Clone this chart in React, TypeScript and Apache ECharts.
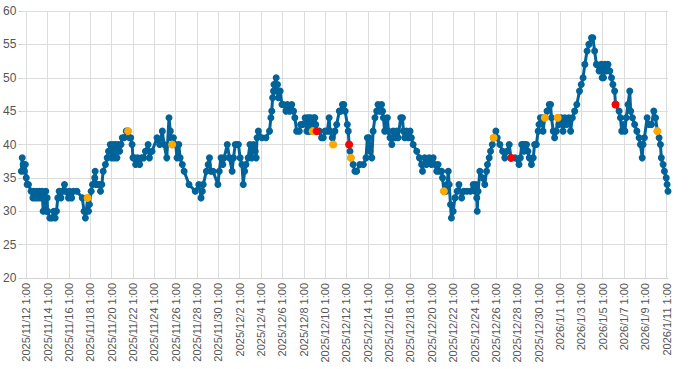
import React, { useEffect, useRef } from "react";
import * as echarts from "echarts";

// Hourly category axis: starts 2025/11/11 14:00, ends 2026/1/11 4:00
const START_UTC = Date.UTC(2025, 10, 11, 14);
const HOUR_COUNT = 1455;
const LABEL_OFFSET = 11; // first label at 2025/11/12 1:00
const LABEL_STEP = 48; // a label every 2 days

const Y_MIN = 20;
const Y_MAX = 60;
const Y_STEP = 5;

// hour index (from start) and value of each plotted point
const hours = [
  0, 2, 4, 7, 9, 11, 13, 16, 22, 26, 28, 32, 35, 38, 41, 44, 47, 49, 52, 55, 56, 58, 59, 64, 69, 73, 76, 79, 82, 85,
  89, 92, 97, 99, 106, 108, 113, 117, 125, 137, 141, 144, 146, 149, 151, 153, 157, 160, 165, 166, 168, 172, 176, 178,
  181, 184, 189, 193, 196, 200, 203, 206, 209, 212, 215, 218, 221, 224, 227, 231, 236, 240, 243, 246, 249, 251, 254,
  257, 261, 266, 270, 275, 279, 285, 288, 294, 305, 311, 317, 321, 327, 332, 335, 336, 339, 342, 347, 350, 354, 357,
  362, 366, 377, 391, 399, 404, 407, 409, 416, 420, 423, 426, 431, 442, 445, 449, 453, 456, 463, 468, 474, 477, 481,
  486, 488, 492, 496, 499, 502, 505, 510, 514, 518, 522, 526, 528, 530, 533, 541, 550, 558, 561, 563, 565, 567, 568,
  573, 574, 576, 578, 582, 586, 589, 595, 598, 603, 608, 612, 615, 619, 625, 628, 633, 638, 642, 644, 645, 647, 649,
  651, 653, 655, 658, 660, 662, 664, 670, 675, 679, 683, 688, 692, 694, 699, 701, 705, 709, 715, 718, 722, 725, 728,
  733, 735, 737, 739, 741, 746, 750, 754, 761, 769, 775, 778, 782, 784, 788, 791, 795, 799, 802, 806, 810, 812, 814,
  817, 823, 825, 829, 833, 836, 840, 844, 847, 853, 857, 859, 862, 866, 870, 874, 877, 881, 889, 895, 900, 902, 907,
  911, 917, 922, 926, 930, 934, 937, 940, 945, 947, 950, 955, 957, 960, 962, 965, 967, 971, 975, 980, 984, 990, 995,
  1002, 1010, 1016, 1020, 1022, 1024, 1025, 1027, 1031, 1037, 1042, 1046, 1048, 1052, 1055, 1059, 1062, 1067, 1070,
  1076, 1082, 1087, 1092, 1097, 1101, 1110, 1119, 1122, 1125, 1128, 1130, 1132, 1136, 1139, 1142, 1147, 1151, 1154,
  1158, 1162, 1164, 1167, 1172, 1173, 1177, 1182, 1187, 1190, 1192, 1196, 1199, 1203, 1206, 1209, 1214, 1218, 1222,
  1226, 1231, 1235, 1239, 1244, 1249, 1255, 1259, 1263, 1267, 1272, 1276, 1282, 1285, 1289, 1293, 1299, 1304, 1306,
  1309, 1312, 1315, 1319, 1323, 1327, 1330, 1334, 1336, 1344, 1347, 1350, 1354, 1357, 1360, 1364, 1368, 1370, 1374,
  1379, 1384, 1389, 1392, 1396, 1398, 1401, 1407, 1411, 1417, 1422, 1426, 1430, 1434, 1437, 1439, 1443, 1446, 1450,
  1452, 1454,
];
const values = [
  36, 38, 37, 36, 37, 35, 34, 34, 33, 32, 33, 32, 33, 32, 33, 32, 33, 30, 32, 33, 30, 32, 30, 29, 29, 30, 29, 30, 32, 33,
  32, 33, 34, 33, 32, 33, 32, 33, 33, 32, 30, 29, 30, 32, 30, 31, 33, 34, 35, 36, 34, 34, 34, 33,
  34, 36, 37, 38, 39, 40, 38, 40, 38, 40, 38, 40, 39, 40, 41, 41, 42, 42, 41, 41, 40, 38, 38,
  37, 38, 37, 38, 38, 39, 40, 38, 39, 41, 40, 42, 40, 38, 44, 42, 41, 40, 41, 40, 38, 40, 38,
  37, 36, 34, 33, 34, 32, 33, 34, 36, 37, 38, 36, 36, 34, 36, 38, 37, 38, 40, 38, 36, 38, 40,
  40, 40, 38, 37, 34, 36, 37, 38, 40, 38, 40, 39, 38, 41, 42, 41, 41, 42, 44, 45, 47, 48, 49,
  50, 48, 49, 47, 48, 46, 46, 45, 46, 45, 46, 45, 44, 42, 42, 43, 43, 44, 42, 44, 42, 44, 42,
  44, 43, 42, 44, 44, 43, 42, 42, 41, 41, 42, 42, 44, 42, 41, 40, 42, 43, 45, 45, 46, 46, 45,
  43, 42, 40, 39, 38, 37, 36, 36, 37, 37, 38, 41, 41, 39, 38, 42, 44, 45, 46, 45, 46, 45, 44,
  42, 44, 42, 41, 40, 42, 41, 42, 41, 44, 44, 42, 41, 42, 41, 42, 41, 40, 39, 38, 37, 36, 38,
  37, 38, 37, 38, 37, 36, 37, 36, 36, 35, 33, 33, 34, 36, 34, 31, 29, 30, 32, 33, 34, 32, 33,
  33, 33, 34, 33, 34, 32, 30, 33, 36, 35, 34, 36, 37, 38, 39, 40, 41, 42, 41,
  40, 39, 38, 39, 40, 38, 38, 37, 38, 40, 40, 39, 40, 40, 39, 38, 37, 38, 40,
  40, 42, 43, 44, 44, 42, 44, 45, 46, 46, 44, 42, 41, 42, 44, 43, 44, 42, 44,
  43, 44, 42, 44, 45, 46, 48, 49, 50, 52, 54, 55, 56, 56, 54, 52, 51, 52, 50,
  50, 52, 51, 52, 51, 50, 49, 48, 46, 45, 44, 42, 43, 42, 44, 46, 48, 45, 44,
  43, 42, 41, 40, 38, 40, 41, 44, 43, 43, 45, 44, 42, 41, 40, 38, 37, 36, 35,
  34, 33,
];

// highlighted points (hour index, value)
const orangeHours = [149, 240, 339, 655, 701, 741, 950, 1062, 1177, 1206, 1430];
const orangeValues = [32, 42, 40, 42, 40, 38, 33, 41, 44, 44, 42];
const redHours = [664, 737, 1101, 1336];
const redValues = [42, 40, 38, 46];

const FONT = "'Liberation Sans', Arial, sans-serif";

const categories: string[] = [];
for (let i = 0; i < HOUR_COUNT; i++) {
  const d = new Date(START_UTC + i * 3600 * 1000);
  categories.push(
    `${d.getUTCFullYear()}/${d.getUTCMonth() + 1}/${d.getUTCDate()} ${d.getUTCHours()}:00`
  );
}

const showLabel = (index: number) => index >= LABEL_OFFSET && (index - LABEL_OFFSET) % LABEL_STEP === 0;

export default function App() {
  const ref = useRef<HTMLDivElement>(null);

  useEffect(() => {
    document.body.style.margin = "0";
    if (!ref.current) return;
    const chart = echarts.init(ref.current, undefined, { renderer: "svg" });

    const lineData: (number | null)[] = new Array(HOUR_COUNT).fill(null);
    hours.forEach((h, i) => {
      lineData[h] = values[i];
    });

    chart.setOption({
      animation: false,
      grid: { left: 21, right: 32, top: 11, bottom: 91, containLabel: false },
      xAxis: {
        type: "category",
        data: categories,
        boundaryGap: false,
        axisLine: { show: true, lineStyle: { color: "#d4d4d4" } },
        axisTick: { show: false, interval: (i: number) => showLabel(i) },
        axisLabel: {
          interval: (i: number) => showLabel(i),
          rotate: 90,
          fontSize: 11,
          color: "#555",
          margin: 5,
          fontFamily: FONT,
        },
        splitLine: {
          show: true,
          interval: (i: number) => showLabel(i),
          lineStyle: { color: "#dcdcdc", width: 1 },
        },
      },
      yAxis: {
        type: "value",
        min: Y_MIN,
        max: Y_MAX,
        interval: Y_STEP,
        axisLine: { show: false },
        axisTick: { show: true, length: 3, lineStyle: { color: "#cfcfcf" } },
        axisLabel: { fontSize: 12, color: "#555", margin: 5, fontFamily: FONT },
        splitLine: { show: true, lineStyle: { color: "#dcdcdc", width: 1 } },
      },
      series: [
        {
          type: "line",
          data: lineData,
          connectNulls: true,
          showAllSymbol: true,
          symbol: "circle",
          symbolSize: 7,
          itemStyle: { color: "#006399" },
          lineStyle: { width: 3, color: "#006399" },
          z: 2,
        },
        {
          type: "scatter",
          data: orangeHours.map((h, i) => [h, orangeValues[i]]),
          symbol: "circle",
          symbolSize: 8,
          itemStyle: { color: "#ffa800", opacity: 1 },
          z: 3,
        },
        {
          type: "scatter",
          data: redHours.map((h, i) => [h, redValues[i]]),
          symbol: "circle",
          symbolSize: 8,
          itemStyle: { color: "#ff0000", opacity: 1 },
          z: 3,
        },
      ],
    });

    return () => chart.dispose();
  }, []);

  return <div ref={ref} style={{ width: 700, height: 369 }} />;
}
